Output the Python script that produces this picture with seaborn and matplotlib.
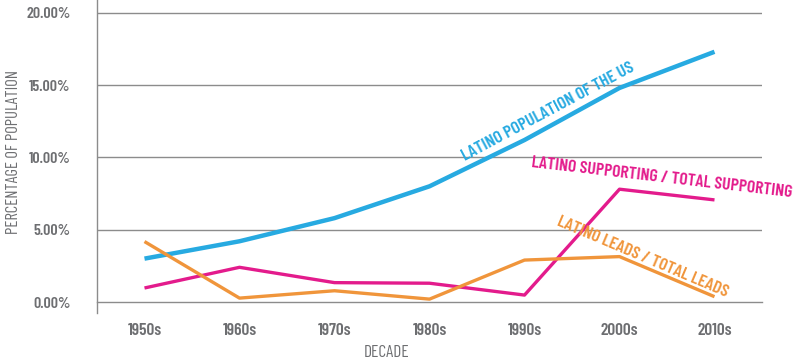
import numpy as np
import pandas as pd
import matplotlib
matplotlib.use('Agg')
import matplotlib.pyplot as plt
import seaborn as sns

# ------------------------
# Data
# ------------------------
decades = ['1950s', '1960s', '1970s', '1980s', '1990s', '2000s', '2010s']
latino_population = [3.0, 4.2, 5.8, 8.0, 11.2, 14.8, 17.3]
latino_supporting = [0.97, 2.4, 1.34, 1.3, 0.48, 7.8, 7.06]
latino_leads = [4.18, 0.27, 0.78, 0.2, 2.9, 3.14, 0.37]
series_names = ['LATINO POPULATION OF THE US',
                'LATINO SUPPORTING / TOTAL SUPPORTING',
                'LATINO LEADS / TOTAL LEADS']
y_ticks = [0, 5, 10, 15, 20]

colors = {series_names[0]: '#27aae1',
          series_names[1]: '#e31b8c',
          series_names[2]: '#f0953b'}
widths = {series_names[0]: 3.2, series_names[1]: 2.4, series_names[2]: 2.4}

pos = np.arange(len(decades))
df = pd.concat([
    pd.DataFrame({'pos': pos, 'value': vals, 'series': name})
    for name, vals in zip(series_names, [latino_population, latino_supporting, latino_leads])
])

# ------------------------
# Style
# ------------------------
sns.set_style('white')
plt.rcParams['font.family'] = ['Barlow Condensed', 'Saira ExtraCondensed', 'DejaVu Sans']
plt.rcParams['font.weight'] = 600
grey = '#6d6e71'
line_grey = '#8c8c8c'

fig = plt.figure(figsize=(8, 3.63), dpi=100)
ax = fig.add_axes([0.12125, 0.1377, 0.83125, 0.8623])

for name in series_names:
    sns.lineplot(data=df[df['series'] == name], x='pos', y='value', color=colors[name],
                 linewidth=widths[name], ax=ax, legend=False, solid_capstyle='butt')

ax.set_xlim(-0.5, 6.5)
ax.set_ylim(-0.76, 20.88)

# y axis
ax.set_yticks(y_ticks)
ax.set_yticklabels([f'{v:.2f}%' for v in y_ticks])
ax.tick_params(axis='y', length=11, width=1, color=line_grey, pad=8,
               labelsize=11.5, labelcolor=grey)
for v in y_ticks[1:]:
    ax.axhline(v, color=line_grey, lw=1, zorder=0)

# x axis: labels centred, tick marks at decade boundaries
ax.set_xticks(pos)
ax.set_xticklabels(decades)
ax.set_xticks(np.arange(-0.5, len(decades)), minor=True)
ax.tick_params(axis='x', which='major', length=0, pad=15, labelsize=12.5, labelcolor=grey)
ax.tick_params(axis='x', which='minor', length=8, width=1, color=line_grey)

for side in ['top', 'right']:
    ax.spines[side].set_visible(False)
ax.spines['bottom'].set_position(('data', 0))
for side in ['left', 'bottom']:
    ax.spines[side].set_color(line_grey)
    ax.spines[side].set_linewidth(1)

ax.set_xlabel('DECADE', fontsize=12.5, color=grey, va='center')
ax.xaxis.set_label_coords(0.436, -0.125)
ax.set_ylabel('PERCENTAGE OF POPULATION', fontsize=12, color=grey, va='center')
ax.yaxis.set_label_coords(-0.126, 0.514)

# Series labels along lines
labels = [
    (series_names[0], 4.247, 13.13, 28),
    (series_names[1], 5.447, 8.57, -6.6),
    (series_names[2], 5.247, 3.11, -23),
]
for name, lx, ly, rot in labels:
    ax.text(lx, ly, name, color=colors[name], fontsize=12.8, rotation=rot,
            rotation_mode='anchor', ha='center', va='center', clip_on=False)

fig.savefig('out.png', dpi=100)
plt.close(fig)
